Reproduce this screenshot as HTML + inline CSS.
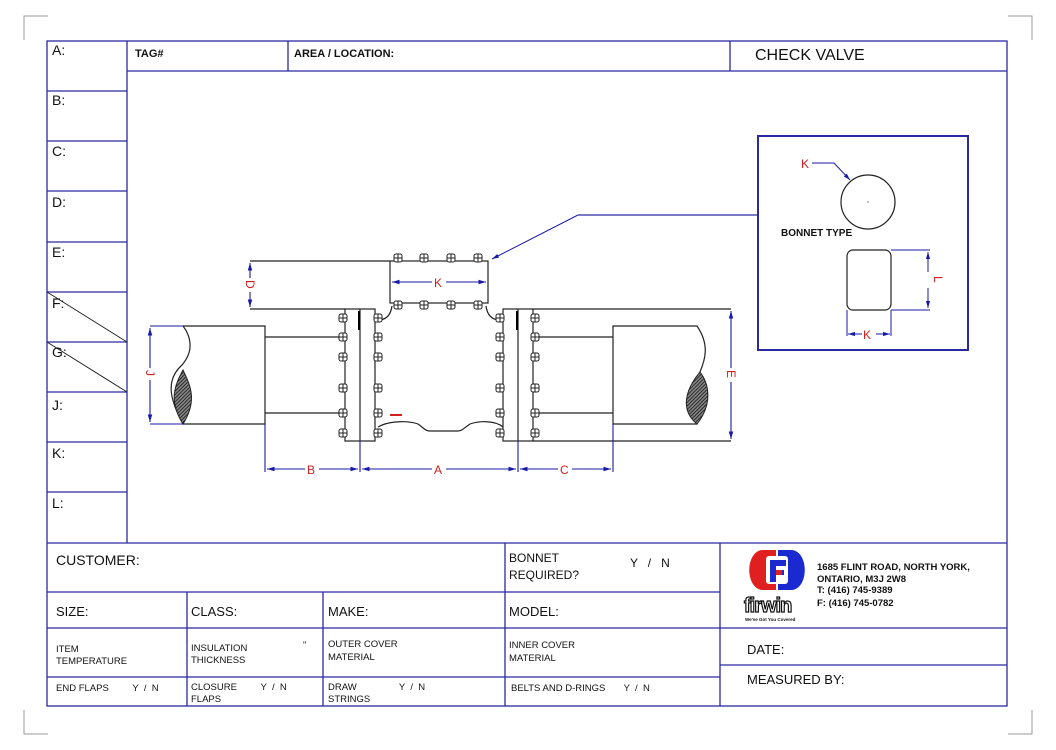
<!DOCTYPE html>
<html><head><meta charset="utf-8"><style>
html,body{margin:0;padding:0;background:#fff}
svg{display:block}
text{font-family:"Liberation Sans",Arial,sans-serif}
</style></head><body>
<svg width="1056" height="750" viewBox="0 0 1056 750" xmlns="http://www.w3.org/2000/svg">
<defs>
<g id="b"><rect x="-4" y="-4" width="8" height="8" rx="2" fill="#fff" stroke="#222" stroke-width="1"/><line x1="-4" y1="0" x2="4" y2="0" stroke="#222"/><line x1="0" y1="-4" x2="0" y2="4" stroke="#222"/></g>
<pattern id="h" width="2.5" height="2.5" patternUnits="userSpaceOnUse" patternTransform="rotate(45)"><rect width="2.5" height="2.5" fill="#888"/><line x1="0" y1="0" x2="0" y2="2.5" stroke="#111" stroke-width="1.6"/></pattern>
<marker id="a" viewBox="0 0 10 10" refX="10" refY="5" markerWidth="7" markerHeight="7" orient="auto-start-reverse"><path d="M0,2 L10,5 L0,8 z" fill="#1a1aaa"/></marker>
</defs>
<rect width="1056" height="750" fill="#fff"/>
<g stroke="#999" fill="none" stroke-width="1">
<path d="M24,40 V16 H48"/><path d="M1008,16 H1032 V40"/><path d="M24,710 V734 H48"/><path d="M1032,710 V734 H1008"/>
</g>
<g stroke="#2a2aa0" fill="none" stroke-width="1.3">
<rect x="47" y="41" width="960" height="665"/>
<line x1="127" y1="41" x2="127" y2="543"/>
<line x1="47" y1="91" x2="127" y2="91"/><line x1="47" y1="141" x2="127" y2="141"/><line x1="47" y1="191" x2="127" y2="191"/><line x1="47" y1="242" x2="127" y2="242"/><line x1="47" y1="292" x2="127" y2="292"/><line x1="47" y1="342" x2="127" y2="342"/><line x1="47" y1="392" x2="127" y2="392"/><line x1="47" y1="442" x2="127" y2="442"/><line x1="47" y1="492" x2="127" y2="492"/>
<line x1="127" y1="71" x2="1007" y2="71"/>
<line x1="288" y1="41" x2="288" y2="71"/><line x1="730" y1="41" x2="730" y2="71"/>
<line x1="47" y1="543" x2="1007" y2="543"/>
<line x1="47" y1="592" x2="720" y2="592"/>
<line x1="47" y1="628" x2="1007" y2="628"/>
<line x1="47" y1="677" x2="720" y2="677"/>
<line x1="720" y1="665" x2="1007" y2="665"/>
<line x1="187" y1="592" x2="187" y2="706"/>
<line x1="323" y1="592" x2="323" y2="706"/>
<line x1="505" y1="543" x2="505" y2="706"/>
<line x1="720" y1="543" x2="720" y2="706"/>
<line x1="758" y1="215" x2="578" y2="215"/>
</g>
<g stroke="#222" stroke-width="1"><line x1="47" y1="292" x2="127" y2="342"/><line x1="47" y1="342" x2="127" y2="392"/></g>
<g font-size="14" fill="#111">
<text x="52" y="55">A:</text><text x="52" y="105">B:</text><text x="52" y="156">C:</text><text x="52" y="207">D:</text><text x="52" y="257">E:</text><text x="52" y="308">F:</text><text x="52" y="357">G:</text><text x="52" y="410">J:</text><text x="52" y="458">K:</text><text x="52" y="508">L:</text>
</g>
<g font-size="11" font-weight="bold" fill="#111"><text x="135" y="57">TAG#</text><text x="294" y="57">AREA / LOCATION:</text></g>
<text x="755" y="60" font-size="16" fill="#111">CHECK VALVE</text>

<rect x="758" y="136" width="210" height="214" fill="none" stroke="#2a2aa0" stroke-width="2"/>
<circle cx="868" cy="202" r="27" fill="none" stroke="#222" stroke-width="1.2"/>
<circle cx="868" cy="202" r="0.6" fill="#222"/>
<path d="M812,163 H834 L850,180" stroke="#1a1aaa" fill="none" marker-end="url(#a)"/>
<text x="801" y="168" font-size="12" fill="#d02020">K</text>
<text x="781" y="236" font-size="10" font-weight="bold" fill="#111">BONNET TYPE</text>
<rect x="847" y="250" width="44" height="60" rx="6" fill="none" stroke="#222" stroke-width="1.2"/>
<g stroke="#1a1aaa" fill="none">
<line x1="891" y1="250" x2="930" y2="250"/><line x1="891" y1="310" x2="930" y2="310"/>
<line x1="928" y1="252" x2="928" y2="308" marker-start="url(#a)" marker-end="url(#a)"/>
<line x1="847" y1="310" x2="847" y2="336"/><line x1="891" y1="310" x2="891" y2="336"/>
<line x1="848" y1="334" x2="890" y2="334" marker-start="url(#a)" marker-end="url(#a)"/>
</g>
<rect x="862" y="329" width="14" height="10" fill="#fff"/>
<text x="863" y="339" font-size="12" fill="#d02020">K</text>
<rect x="922" y="272" width="12" height="16" fill="#fff"/>
<text x="0" y="0" font-size="12" fill="#d02020" transform="translate(934,276) rotate(90)">L</text>

<line x1="578" y1="215" x2="492" y2="259" stroke="#1a1aaa" marker-end="url(#a)"/>

<g stroke="#222" fill="none" stroke-width="1.2">
<rect x="390" y="261" width="98" height="42" fill="#fff"/>
<line x1="250" y1="261" x2="390" y2="261"/>
<line x1="250" y1="309" x2="345" y2="309"/>
<line x1="533" y1="309" x2="731" y2="309"/>
<line x1="533" y1="441" x2="731" y2="441"/>
<path d="M378,320 Q390,320 392,306"/>
<path d="M500,320 Q488,320 486,306"/>
<rect x="345" y="309" width="30" height="132" fill="#fff"/>
<line x1="360" y1="309" x2="360" y2="441"/>
<rect x="503" y="309" width="30" height="132" fill="#fff"/>
<line x1="518" y1="309" x2="518" y2="441"/>
<line x1="265" y1="337" x2="345" y2="337"/><line x1="265" y1="413" x2="345" y2="413"/>
<line x1="533" y1="337" x2="613" y2="337"/><line x1="533" y1="413" x2="613" y2="413"/>
<path d="M378,427 C390,420 410,421 418,424 C424,428 425,431 430,431 H458 C462,431 464,428 470,424 C478,421 495,420 503,427"/>
<path d="M183,326 H265 V424 H183 C170,400 165,380 182,365 C195,350 190,335 183,326"/>
<path d="M613,326 H697 C710,345 705,360 700,372 C690,390 695,410 697,424 H613 Z"/>
</g>
<path d="M183,370 C175,385 168,400 183,424 C198,400 190,385 183,370 Z" fill="url(#h)" stroke="#222"/>
<path d="M700,372 C685,390 680,410 697,424 C712,405 710,385 700,372 Z" fill="url(#h)" stroke="#222"/>
<line x1="359" y1="311" x2="359" y2="330" stroke="#000" stroke-width="2"/>
<line x1="517" y1="311" x2="517" y2="330" stroke="#000" stroke-width="2"/>
<line x1="390" y1="415" x2="402" y2="415" stroke="#d02020" stroke-width="2"/>
<g>
<use href="#b" x="398" y="258"/><use href="#b" x="424" y="258"/><use href="#b" x="451" y="258"/><use href="#b" x="478" y="258"/>
<use href="#b" x="398" y="305"/><use href="#b" x="424" y="305"/><use href="#b" x="451" y="305"/><use href="#b" x="478" y="305"/>
<use href="#b" x="343" y="318"/><use href="#b" x="343" y="337"/><use href="#b" x="343" y="357"/><use href="#b" x="343" y="388"/><use href="#b" x="343" y="413"/><use href="#b" x="343" y="433"/>
<use href="#b" x="378" y="318"/><use href="#b" x="378" y="337"/><use href="#b" x="378" y="357"/><use href="#b" x="378" y="388"/><use href="#b" x="378" y="413"/><use href="#b" x="378" y="433"/>
<use href="#b" x="500" y="318"/><use href="#b" x="500" y="337"/><use href="#b" x="500" y="357"/><use href="#b" x="500" y="388"/><use href="#b" x="500" y="413"/><use href="#b" x="500" y="433"/>
<use href="#b" x="535" y="318"/><use href="#b" x="535" y="337"/><use href="#b" x="535" y="357"/><use href="#b" x="535" y="388"/><use href="#b" x="535" y="413"/><use href="#b" x="535" y="433"/>
</g>
<g stroke="#1a1aaa" fill="none" stroke-width="1.1">
<line x1="250" y1="263" x2="250" y2="307" marker-start="url(#a)" marker-end="url(#a)"/>
<line x1="392" y1="282" x2="486" y2="282" marker-start="url(#a)" marker-end="url(#a)"/>
<line x1="150" y1="326" x2="183" y2="326"/><line x1="150" y1="424" x2="183" y2="424"/>
<line x1="150" y1="328" x2="150" y2="422" marker-start="url(#a)" marker-end="url(#a)"/>
<line x1="731" y1="311" x2="731" y2="439" marker-start="url(#a)" marker-end="url(#a)"/>
<line x1="265" y1="424" x2="265" y2="472"/><line x1="360" y1="441" x2="360" y2="472"/><line x1="518" y1="441" x2="518" y2="472"/><line x1="613" y1="424" x2="613" y2="472"/>
<line x1="267" y1="469" x2="358" y2="469" marker-start="url(#a)" marker-end="url(#a)"/>
<line x1="362" y1="469" x2="516" y2="469" marker-start="url(#a)" marker-end="url(#a)"/>
<line x1="520" y1="469" x2="611" y2="469" marker-start="url(#a)" marker-end="url(#a)"/>
</g>
<g font-size="12" fill="#d02020">
<rect x="305" y="463" width="14" height="12" fill="#fff"/><text x="307" y="474">B</text>
<rect x="432" y="463" width="14" height="12" fill="#fff"/><text x="434" y="474">A</text>
<rect x="558" y="463" width="14" height="12" fill="#fff"/><text x="560" y="474">C</text>
<rect x="432" y="276" width="14" height="12" fill="#fff"/><text x="434" y="287">K</text>
<rect x="244" y="278" width="12" height="14" fill="#fff"/><text transform="translate(246,280) rotate(90)">D</text>
<rect x="144" y="368" width="12" height="12" fill="#fff"/><text transform="translate(146,370) rotate(90)">J</text>
<rect x="725" y="368" width="12" height="14" fill="#fff"/><text transform="translate(727,370) rotate(90)">E</text>
</g>

<g fill="#111">
<text x="56" y="565" font-size="14">CUSTOMER:</text>
<text x="509" y="562" font-size="12">BONNET</text><text x="509" y="579" font-size="12">REQUIRED?</text>
<text x="630" y="567" font-size="12">Y &#160; / &#160; N</text>
<text x="56" y="616" font-size="13">SIZE:</text><text x="191" y="616" font-size="13">CLASS:</text><text x="328" y="616" font-size="13">MAKE:</text><text x="509" y="616" font-size="13">MODEL:</text>
<g font-size="9.5">
<text x="56" y="652">ITEM</text><text x="56" y="664">TEMPERATURE</text>
<text x="191" y="651">INSULATION</text><text x="191" y="663">THICKNESS</text><text x="303" y="648">"</text>
<text x="328" y="647">OUTER COVER</text><text x="328" y="660">MATERIAL</text>
<text x="509" y="648">INNER COVER</text><text x="509" y="661">MATERIAL</text>
<text x="56" y="691">END FLAPS &#160; &#160; &#160; &#160; Y &#160;/ &#160;N</text>
<text x="191" y="690">CLOSURE &#160; &#160; &#160; &#160; Y &#160;/ &#160;N</text><text x="191" y="702">FLAPS</text>
<text x="328" y="690">DRAW &#160; &#160; &#160; &#160; &#160; &#160; &#160; &#160;Y &#160;/ &#160;N</text><text x="328" y="702">STRINGS</text>
<text x="511" y="691">BELTS AND D-RINGS &#160; &#160; &#160; Y &#160;/ &#160;N</text>
</g>
<text x="747" y="654" font-size="13">DATE:</text>
<text x="747" y="684" font-size="13">MEASURED BY:</text>
<g font-size="9.5" font-weight="bold">
<text x="817" y="570">1685 FLINT ROAD, NORTH YORK,</text>
<text x="817" y="582">ONTARIO, M3J 2W8</text>
<text x="817" y="593">T: (416) 745-9389</text>
<text x="817" y="606">F: (416) 745-0782</text>
</g>
</g>
<path d="M776,550 H762 C745,552 745,588 762,590 H776 Z" fill="#e02020"/>
<path d="M778,550 H792 C809,552 809,588 792,590 H778 Z" fill="#1a2ad0"/>
<rect x="766" y="556" width="22" height="28" rx="3" fill="#fff"/>
<path d="M770,560 H786 V566 H776 V570 H784 V575 H776 V582 H770 Z" fill="#1a2ad0"/>
<rect x="776" y="570" width="6" height="5" fill="#e02020"/>
<text x="744" y="612" font-size="20" font-weight="bold" fill="#fff" stroke="#111" stroke-width="1.2" letter-spacing="-1">firwin</text>
<text x="745" y="621" font-size="4.5" font-weight="bold" fill="#111">We've Got You Covered</text>
</svg>
</body></html>
